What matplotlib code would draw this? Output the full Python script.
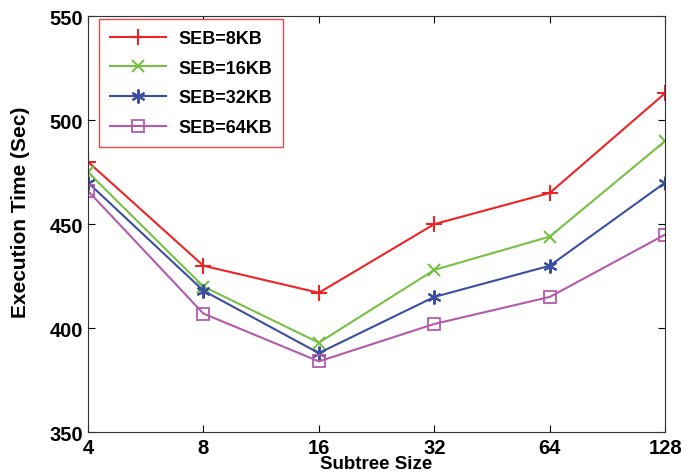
import matplotlib
matplotlib.use("Agg")
import matplotlib.pyplot as plt
import numpy as np

plt.rcParams["font.family"] = ["Liberation Sans Narrow", "Liberation Sans", "DejaVu Sans"]
plt.rcParams["font.weight"] = "bold"

subtree_sizes = ["4", "8", "16", "32", "64", "128"]
seb_8kb = [480, 430, 417, 450, 465, 513]
seb_16kb = [475, 420, 393, 428, 444, 490]
seb_32kb = [470, 418, 388, 415, 430, 470]
seb_64kb = [466, 407, 384, 402, 415, 445]

series = [
    ("SEB=8KB", seb_8kb, "#ee2424", "+", dict(markersize=11, markeredgewidth=1.5)),
    ("SEB=16KB", seb_16kb, "#78c044", "x", dict(markersize=9, markeredgewidth=1.5)),
    ("SEB=32KB", seb_32kb, "#3b4ea2", (6, 2, 0), dict(markersize=10, markeredgewidth=1.5)),
    ("SEB=64KB", seb_64kb, "#b45aac", "s", dict(markersize=9, markeredgewidth=1.3, markerfacecolor="none")),
]

fig = plt.figure(figsize=(6.98, 4.77), dpi=100)
ax = fig.add_axes([0.126, 0.092, 0.827, 0.872])

x = np.arange(len(subtree_sizes))
for label, vals, color, marker, kw in series:
    ax.plot(x, vals, color=color, marker=marker, linewidth=1.5, label=label, **kw)

ax.set_xlim(0, len(subtree_sizes) - 1)
ax.set_ylim(350, 550)
ax.set_xticks(x)
ax.set_xticklabels(subtree_sizes)
ax.set_yticks([350, 400, 450, 500, 550])
ax.tick_params(direction="in", top=True, right=True, labelsize=14.5, length=5, width=0.8)
ax.tick_params(axis="x", pad=4)
for spine in ax.spines.values():
    spine.set_linewidth(0.8)
    spine.set_color("#333333")

ax.set_xlabel("Subtree Size", fontsize=13.5, fontweight="bold", labelpad=-1)
ax.set_ylabel("Execution Time (Sec)", fontsize=15, fontweight="bold")
ax.yaxis.set_label_coords(-0.1, 0.53)

leg = ax.legend(loc="upper left", bbox_to_anchor=(0.019, 0.993), borderaxespad=0,
                fontsize=13, fancybox=False, framealpha=1, edgecolor="#e84a4a",
                handlelength=3.1, borderpad=0.6, labelspacing=0.7, handletextpad=0.7)
leg.get_frame().set_linewidth(1.0)

fig.savefig("out.png", dpi=100)
